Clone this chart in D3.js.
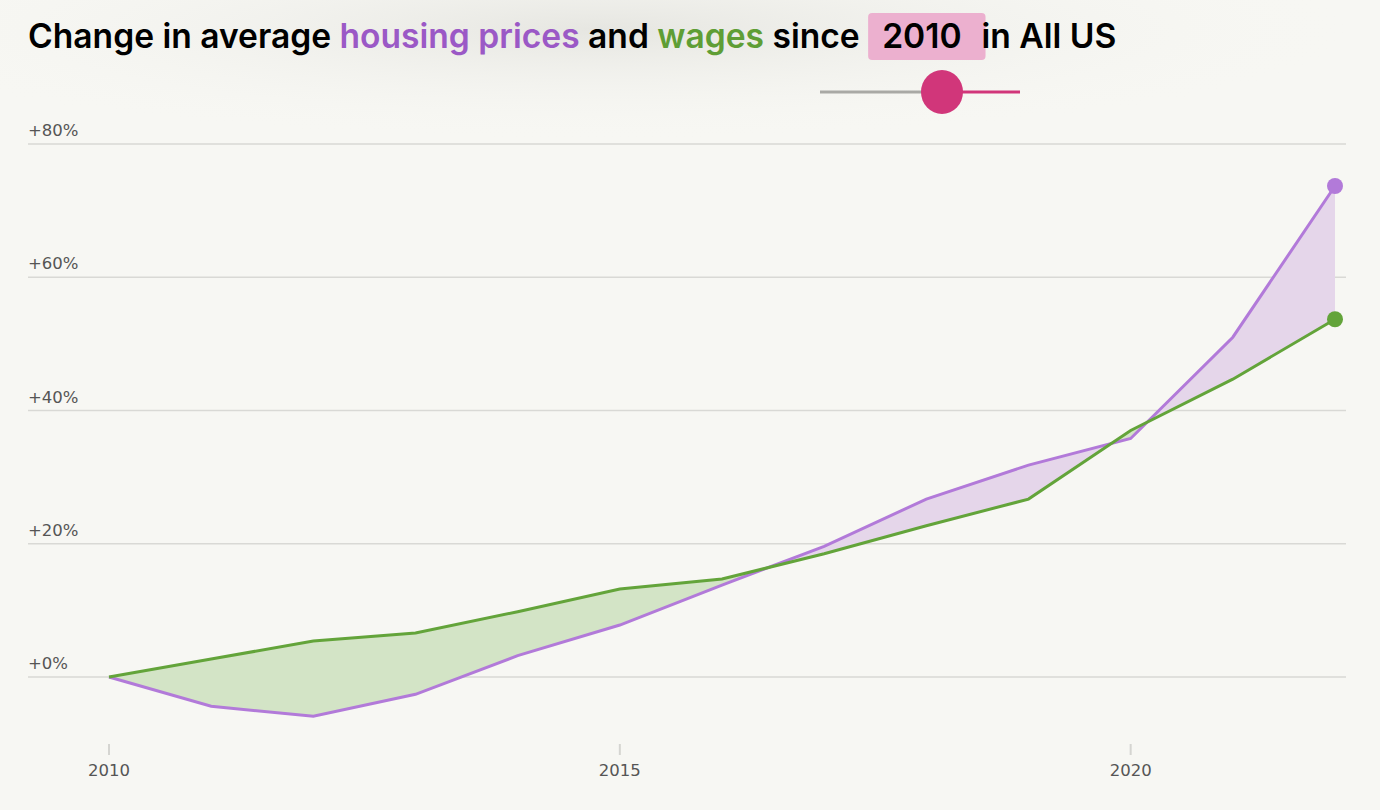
<!DOCTYPE html>
<html lang="en">
<head>
    <meta charset="UTF-8" />
    <title>Housing prices vs wages</title>
    <style>
        body { margin: 0; background: #f7f7f3; }
        svg { display: block; }
        .title { font-family: Inter, sans-serif; font-weight: 600; font-size: 33.6px; letter-spacing: 0px; }
        .tick-label { font-family: "DejaVu Sans", sans-serif; font-size: 16.5px; fill: #555; }
        .grid { stroke: #d9d9d5; stroke-width: 1.5px; }
    </style>
</head>
<body>
    <div id="chart"></div>

    <script src="https://d3js.org/d3.v7.min.js"></script>
    <script>
        const years = [2010, 2011, 2012, 2013, 2014, 2015, 2016, 2017, 2018, 2019, 2020, 2021, 2022];
        const housing = [0, -4.4, -5.9, -2.6, 3.2, 7.8, 13.8, 19.6, 26.7, 31.8, 35.8, 51.0, 73.7];
        const wages = [0, 2.7, 5.4, 6.6, 9.8, 13.2, 14.7, 18.5, 22.7, 26.7, 37.0, 44.7, 53.7];
        const yTicks = [0, 20, 40, 60, 80];
        const xTicks = [2010, 2015, 2020];
        const startYear = 2010;

        const W = 1380, H = 810;
        const purple = '#b27ad9', green = '#63a43a';

        const svg = d3.select('#chart').append('svg')
            .attr('width', W)
            .attr('height', H);

        // soft glow behind the title
        const defs = svg.append('defs');
        const glow = defs.append('radialGradient').attr('id', 'glow')
            .attr('cx', '50%').attr('cy', '50%').attr('r', '50%');
        glow.append('stop').attr('offset', '0%').attr('stop-color', '#e6e6e1');
        glow.append('stop').attr('offset', '100%').attr('stop-color', '#f7f7f3').attr('stop-opacity', 0);
        svg.append('ellipse')
            .attr('cx', 600).attr('cy', 30).attr('rx', 760).attr('ry', 110)
            .attr('fill', 'url(#glow)');

        const x = d3.scaleLinear().domain([2010, 2022]).range([109, 1335]);
        const y = d3.scaleLinear().domain([0, 80]).range([677, 144]);

        const data = years.map((yr, i) => ({ year: yr, h: housing[i], w: wages[i] }));

        // grid + y labels
        const grid = svg.append('g');
        grid.selectAll('line')
            .data(yTicks)
            .enter().append('line')
            .attr('class', 'grid')
            .attr('x1', 28).attr('x2', 1346)
            .attr('y1', d => y(d)).attr('y2', d => y(d));
        grid.selectAll('text')
            .data(yTicks)
            .enter().append('text')
            .attr('class', 'tick-label')
            .attr('x', 28)
            .attr('y', d => y(d) - 8)
            .text(d => '+' + d + '%');

        // x axis
        const xa = svg.append('g');
        xa.selectAll('line')
            .data(xTicks)
            .enter().append('line')
            .attr('x1', d => x(d)).attr('x2', d => x(d))
            .attr('y1', 744).attr('y2', 755)
            .attr('stroke', '#d5d5d1').attr('stroke-width', 2);
        xa.selectAll('text')
            .data(xTicks)
            .enter().append('text')
            .attr('class', 'tick-label')
            .attr('x', d => x(d))
            .attr('y', 776)
            .attr('text-anchor', 'middle')
            .text(d => d);

        // difference areas
        defs.append('clipPath').attr('id', 'above')
            .append('path')
            .attr('d', d3.area().x(d => x(d.year)).y0(0).y1(d => y(d.h))(data));
        defs.append('clipPath').attr('id', 'below')
            .append('path')
            .attr('d', d3.area().x(d => x(d.year)).y0(H).y1(d => y(d.h))(data));

        const between = d3.area().x(d => x(d.year)).y0(d => y(d.h)).y1(d => y(d.w));
        svg.append('path')
            .attr('d', between(data))
            .attr('clip-path', 'url(#above)')
            .attr('fill', '#d3e4c6');
        svg.append('path')
            .attr('d', between(data))
            .attr('clip-path', 'url(#below)')
            .attr('fill', '#e5d6ea');

        // lines
        const line = key => d3.line().x(d => x(d.year)).y(d => y(d[key]));
        svg.append('path')
            .attr('d', line('h')(data))
            .attr('fill', 'none').attr('stroke', purple).attr('stroke-width', 3);
        svg.append('path')
            .attr('d', line('w')(data))
            .attr('fill', 'none').attr('stroke', green).attr('stroke-width', 3);

        const last = data[data.length - 1];
        svg.append('circle').attr('cx', x(last.year)).attr('cy', y(last.h)).attr('r', 8).attr('fill', purple);
        svg.append('circle').attr('cx', x(last.year)).attr('cy', y(last.w)).attr('r', 8).attr('fill', green);

        // title
        const title = svg.append('text').attr('class', 'title').attr('x', 28).attr('y', 48);
        title.append('tspan').text('Change in average ');
        title.append('tspan').attr('fill', '#9b59c6').text('housing prices');
        title.append('tspan').text(' and ');
        title.append('tspan').attr('fill', '#5f9e35').text('wages');
        title.append('tspan').text(' since ');
        const yearSpan = title.append('tspan').attr('dx', 14).text(String(startYear));
        title.append('tspan').attr('dx', 20).text('in All US');

        // box behind the year
        const bb = yearSpan.node().getBBox();
        svg.insert('rect', '.title')
            .attr('x', bb.x - 14).attr('y', 13)
            .attr('width', bb.width + 38).attr('height', 47)
            .attr('rx', 4)
            .attr('fill', '#ecb0cf');

        // slider
        const sx = d3.scaleLinear().domain([1990, 2022]).range([820, 1020]);
        svg.append('line').attr('x1', sx(1990)).attr('x2', sx(2010)).attr('y1', 92).attr('y2', 92)
            .attr('stroke', '#a9a9a5').attr('stroke-width', 3);
        svg.append('line').attr('x1', sx(2010)).attr('x2', sx(2022)).attr('y1', 92).attr('y2', 92)
            .attr('stroke', '#d1367a').attr('stroke-width', 3);
        svg.append('ellipse').attr('cx', sx(2010) - 3).attr('cy', 92).attr('rx', 21).attr('ry', 22).attr('fill', '#d1367a');
    </script>
</body>
</html>
